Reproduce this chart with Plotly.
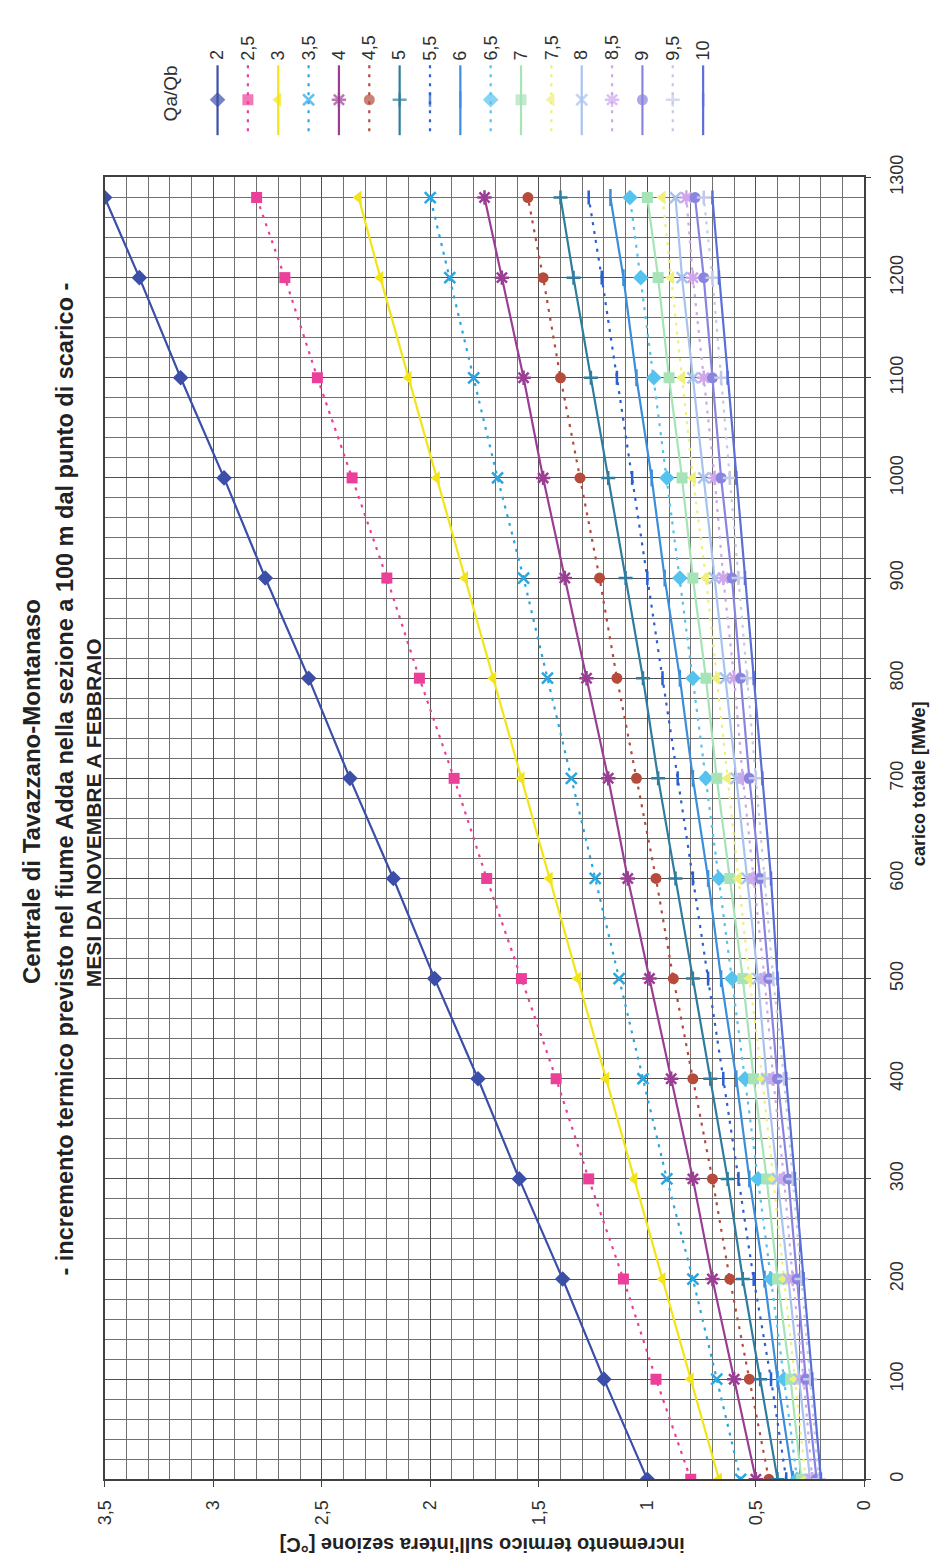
import plotly.graph_objects as go

W, H = 952, 1562

# ---------------- data ----------------
carico = [0, 100, 200, 300, 400, 500, 600, 700, 800, 900, 1000, 1100, 1200, 1280]

ratio_labels = ['2', '2,5', '3', '3,5', '4', '4,5', '5', '5,5', '6', '6,5',
                '7', '7,5', '8', '8,5', '9', '9,5', '10']

s_2   = [1.00, 1.20, 1.39, 1.59, 1.78, 1.98, 2.17, 2.37, 2.56, 2.76, 2.95, 3.15, 3.34, 3.50]
s_2_5 = [0.80, 0.96, 1.11, 1.27, 1.42, 1.58, 1.74, 1.89, 2.05, 2.20, 2.36, 2.52, 2.67, 2.80]
s_3   = [0.67, 0.80, 0.93, 1.06, 1.19, 1.32, 1.45, 1.58, 1.71, 1.84, 1.97, 2.10, 2.23, 2.33]
s_3_5 = [0.57, 0.68, 0.79, 0.91, 1.02, 1.13, 1.24, 1.35, 1.46, 1.57, 1.69, 1.80, 1.91, 2.00]
s_4   = [0.50, 0.60, 0.70, 0.79, 0.89, 0.99, 1.09, 1.18, 1.28, 1.38, 1.48, 1.57, 1.67, 1.75]
s_4_5 = [0.44, 0.53, 0.62, 0.70, 0.79, 0.88, 0.96, 1.05, 1.14, 1.22, 1.31, 1.40, 1.48, 1.55]
s_5   = [0.40, 0.48, 0.56, 0.63, 0.71, 0.79, 0.87, 0.95, 1.02, 1.10, 1.18, 1.26, 1.34, 1.40]
s_5_5 = [0.36, 0.43, 0.51, 0.58, 0.65, 0.72, 0.79, 0.86, 0.93, 1.00, 1.07, 1.14, 1.21, 1.27]
s_6   = [0.33, 0.40, 0.46, 0.53, 0.59, 0.66, 0.72, 0.79, 0.85, 0.92, 0.98, 1.05, 1.11, 1.17]
s_6_5 = [0.31, 0.37, 0.43, 0.49, 0.55, 0.61, 0.67, 0.73, 0.79, 0.85, 0.91, 0.97, 1.03, 1.08]
s_7   = [0.29, 0.34, 0.40, 0.45, 0.51, 0.56, 0.62, 0.68, 0.73, 0.79, 0.84, 0.90, 0.95, 1.00]
s_7_5 = [0.27, 0.32, 0.37, 0.42, 0.47, 0.53, 0.58, 0.63, 0.68, 0.73, 0.79, 0.84, 0.89, 0.93]
s_8   = [0.25, 0.30, 0.35, 0.40, 0.45, 0.49, 0.54, 0.59, 0.64, 0.69, 0.74, 0.79, 0.84, 0.87]
s_8_5 = [0.24, 0.28, 0.33, 0.37, 0.42, 0.46, 0.51, 0.56, 0.60, 0.65, 0.69, 0.74, 0.79, 0.82]
s_9   = [0.22, 0.27, 0.31, 0.35, 0.40, 0.44, 0.48, 0.53, 0.57, 0.61, 0.66, 0.70, 0.74, 0.78]
s_9_5 = [0.21, 0.25, 0.29, 0.33, 0.37, 0.42, 0.46, 0.50, 0.54, 0.58, 0.62, 0.66, 0.70, 0.74]
s_10  = [0.20, 0.24, 0.28, 0.32, 0.36, 0.40, 0.43, 0.47, 0.51, 0.55, 0.59, 0.63, 0.67, 0.70]

series = [s_2, s_2_5, s_3, s_3_5, s_4, s_4_5, s_5, s_5_5, s_6, s_6_5,
          s_7, s_7_5, s_8, s_8_5, s_9, s_9_5, s_10]

inc_tickvals = [0, 0.5, 1, 1.5, 2, 2.5, 3, 3.5]
inc_ticktext = ['0', '0,5', '1', '1,5', '2', '2,5', '3', '3,5']
car_tickvals = [0, 100, 200, 300, 400, 500, 600, 700, 800, 900, 1000, 1100, 1200, 1300]

title_1 = 'Centrale di Tavazzano-Montanaso'
title_2 = '- incremento termico previsto nel fiume Adda nella sezione a 100 m dal punto di scarico -'
title_3 = 'MESI DA NOVEMBRE A FEBBRAIO'
x_title = 'carico totale [MWe]'
y_title = "incremento termico sull'intera sezione [°C]"
legend_title = 'Qa/Qb'

# ---------------- styles ----------------
colors = ['#3B4FA8', '#EC3F9A', '#F2E417', '#2AA6E0', '#9A3E94', '#B64B3C',
          '#2F7C9E', '#2B5FD4', '#3B8EDC', '#55C3EE', '#A6E3B6', '#EEF07A',
          '#A8C3EE', '#CFA6EA', '#8984E0', '#C4C9E6', '#5A70D8']
symbols = ['diamond', 'square', 'triangle-left', 'x-thin-open', 'asterisk-open', 'circle',
           'cross-thin-open', 'line-ns-open', 'line-ns-open', 'diamond', 'square',
           'triangle-left', 'x-thin-open', 'asterisk-open', 'circle', 'cross-thin-open',
           'line-ns-open']
sizes = [12, 11, 12, 11, 12, 11, 10, 10, 12, 12, 11, 12, 11, 12, 11, 10, 10]
dashes = ['solid' if i % 2 == 0 else '3px,6px' for i in range(len(series))]

GRID_MAJOR = '#505050'
GRID_MINOR = '#707070'
FONT = 'Liberation Sans, Arial, sans-serif'
TXT = '#303030'

# plot area in pixels
PL, PR, PT, PB = 96.7, 872.7, 157, 1480


def fx(p):
    return p / W


def fy(p):
    return 1 - p / H


fig = go.Figure()

for i, (lab, vals) in enumerate(zip(ratio_labels, series)):
    is_open = symbols[i].endswith('open')
    fig.add_trace(go.Scatter(
        x=vals, y=carico, name=lab, mode='lines+markers',
        xaxis='x', yaxis='y',
        line=dict(color=colors[i], width=2.2, dash=dashes[i]),
        marker=dict(symbol=symbols[i], size=sizes[i], color=colors[i],
                    line=dict(color=colors[i], width=2.5 if is_open else 0)),
        showlegend=False,
    ))

# -------- hand-built rotated legend --------
LEG_X0, LEG_DX = 212, 31
LEG_TOP, LEG_MID, LEG_BOT = 43, 78, 114
annotations = []
for i, lab in enumerate(ratio_labels):
    lx = LEG_X0 + i * LEG_DX
    is_open = symbols[i].endswith('open')
    fig.add_trace(go.Scatter(
        x=[lx, lx, lx], y=[LEG_TOP, LEG_MID, LEG_BOT], mode='lines+markers',
        xaxis='x2', yaxis='y2', showlegend=False, hoverinfo='skip',
        line=dict(color=colors[i], width=2.2, dash=dashes[i]),
        marker=dict(symbol=symbols[i], size=[0, sizes[i], 0], color=colors[i],
                    line=dict(color=colors[i], width=2.5 if is_open else 0)),
    ))
    annotations.append(dict(
        x=fx(lx), y=fy(40), xref='paper', yref='paper', text=lab, showarrow=False,
        textangle=-90, xanchor='center', yanchor='bottom',
        font=dict(family=FONT, size=18, color=TXT)))

annotations.append(dict(
    x=fx(164), y=fy(72), xref='paper', yref='paper', text=legend_title, showarrow=False,
    textangle=-90, xanchor='center', yanchor='middle',
    font=dict(family=FONT, size=19, color=TXT)))

# titles
annotations += [
    dict(x=fx(22), y=fy(781), xref='paper', yref='paper', text='<b>%s</b>' % title_1,
         showarrow=False, textangle=-90, xanchor='center', yanchor='middle',
         font=dict(family=FONT, size=24, color='#222')),
    dict(x=fx(56), y=fy(768), xref='paper', yref='paper', text='<b>%s</b>' % title_2,
         showarrow=False, textangle=-90, xanchor='center', yanchor='middle',
         font=dict(family=FONT, size=23.5, color='#222')),
    dict(x=fx(85), y=fy(803), xref='paper', yref='paper', text='<b>%s</b>' % title_3,
         showarrow=False, textangle=-90, xanchor='center', yanchor='middle',
         font=dict(family=FONT, size=21, color='#222')),
    dict(x=fx(928), y=fy(773), xref='paper', yref='paper', text='<b>%s</b>' % x_title,
         showarrow=False, textangle=-90, xanchor='center', yanchor='middle',
         font=dict(family=FONT, size=18, color='#222')),
    dict(x=fx(482), y=fy(1546), xref='paper', yref='paper', text='<b>%s</b>' % y_title,
         showarrow=False, textangle=180, xanchor='center', yanchor='middle',
         font=dict(family=FONT, size=20, color='#222')),
]

fig.update_layout(
    width=W, height=H, autosize=False,
    margin=dict(l=0, r=0, t=0, b=0),
    paper_bgcolor='white', plot_bgcolor='rgba(0,0,0,0)',
    showlegend=False,
    font=dict(family=FONT, color=TXT),
    xaxis=dict(
        domain=[fx(PL), fx(PR)], range=[3.5, 0], anchor='y',
        tickmode='array', tickvals=inc_tickvals, ticktext=inc_ticktext,
        tickangle=-90, tickfont=dict(size=18, color=TXT),
        showgrid=True, gridcolor=GRID_MAJOR, gridwidth=1.4,
        minor=dict(dtick=0.1, tick0=0, showgrid=True, gridcolor=GRID_MINOR, gridwidth=1.1),
        showline=True, linecolor='#404040', linewidth=1.6, mirror=True,
        ticks='outside', ticklen=6, tickcolor='#404040', ticklabelstandoff=6,
        zeroline=False,
    ),
    yaxis=dict(
        domain=[fy(PB), fy(PT)], range=[0, 1300], anchor='x', side='right',
        tickmode='array', tickvals=car_tickvals,
        tickangle=-90, tickfont=dict(size=18, color=TXT),
        showgrid=True, gridcolor=GRID_MAJOR, gridwidth=1.4,
        minor=dict(dtick=20, tick0=0, showgrid=True, gridcolor=GRID_MINOR, gridwidth=1.1),
        showline=True, linecolor='#404040', linewidth=1.6, mirror=True,
        ticks='outside', ticklen=5, tickcolor='#404040', ticklabelstandoff=10,
        zeroline=False,
    ),
    xaxis2=dict(domain=[0, 1], range=[0, W], anchor='y2', visible=False, fixedrange=True),
    yaxis2=dict(domain=[fy(130), 1], range=[130, 0], anchor='x2', visible=False, fixedrange=True),
    annotations=annotations,
)

fig.write_html('out.html', config={'displayModeBar': False},
               post_script="document.body.style.margin='0px';document.body.style.overflow='hidden';")
